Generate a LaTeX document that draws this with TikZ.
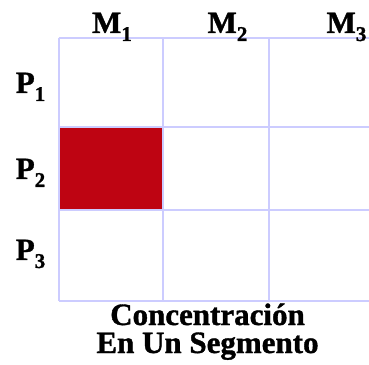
\documentclass[tikz,border=0pt]{standalone}
\usepackage{fontspec}
\setmainfont{Liberation Serif}[BoldFeatures={FakeBold=1.2}]
\definecolor{gridc}{HTML}{CCCCFF}
\definecolor{redc}{HTML}{BE0412}
\newcommand{\lsub}[1]{\raisebox{-8pt}{\fontsize{21}{21}\selectfont #1}}
\begin{document}
\begin{tikzpicture}[x=1pt,y=1pt,
  lbl/.style={inner sep=0pt,anchor=base,font=\fontsize{31}{33}\selectfont\bfseries},
  gridline/.style={draw=gridc,line width=2pt}]
\useasboundingbox (0,0) rectangle (369,364);
\fill[redc] (58.5,237) rectangle (163,154);
% grid
\draw[gridline] (58.5,326) -- (375,326);
\draw[gridline] (58.5,237) -- (375,237);
\draw[gridline] (58.5,154) -- (375,154);
\draw[gridline] (58.5,63) -- (375,63);
\draw[gridline] (58.5,326) -- (58.5,63);
\draw[gridline] (163,326) -- (163,63);
\draw[gridline] (269,326) -- (269,63);
% labels
\node[lbl] (m1) at (112,331) {M\lsub{1}};
\node[lbl] (m2) at (227.5,331) {M\lsub{2}};
\node[lbl] (m3) at (346.5,331) {M\lsub{3}};
\node[lbl] (p1) at (30.5,271) {P\lsub{1}};
\node[lbl] (p2) at (30.5,185) {P\lsub{2}};
\node[lbl] (p3) at (30.5,104) {P\lsub{3}};
\node[lbl] (t1) at (207.5,39) {Concentración};
\node[lbl] (t2) at (207.5,11) {En Un Segmento};
\end{tikzpicture}
\end{document}
